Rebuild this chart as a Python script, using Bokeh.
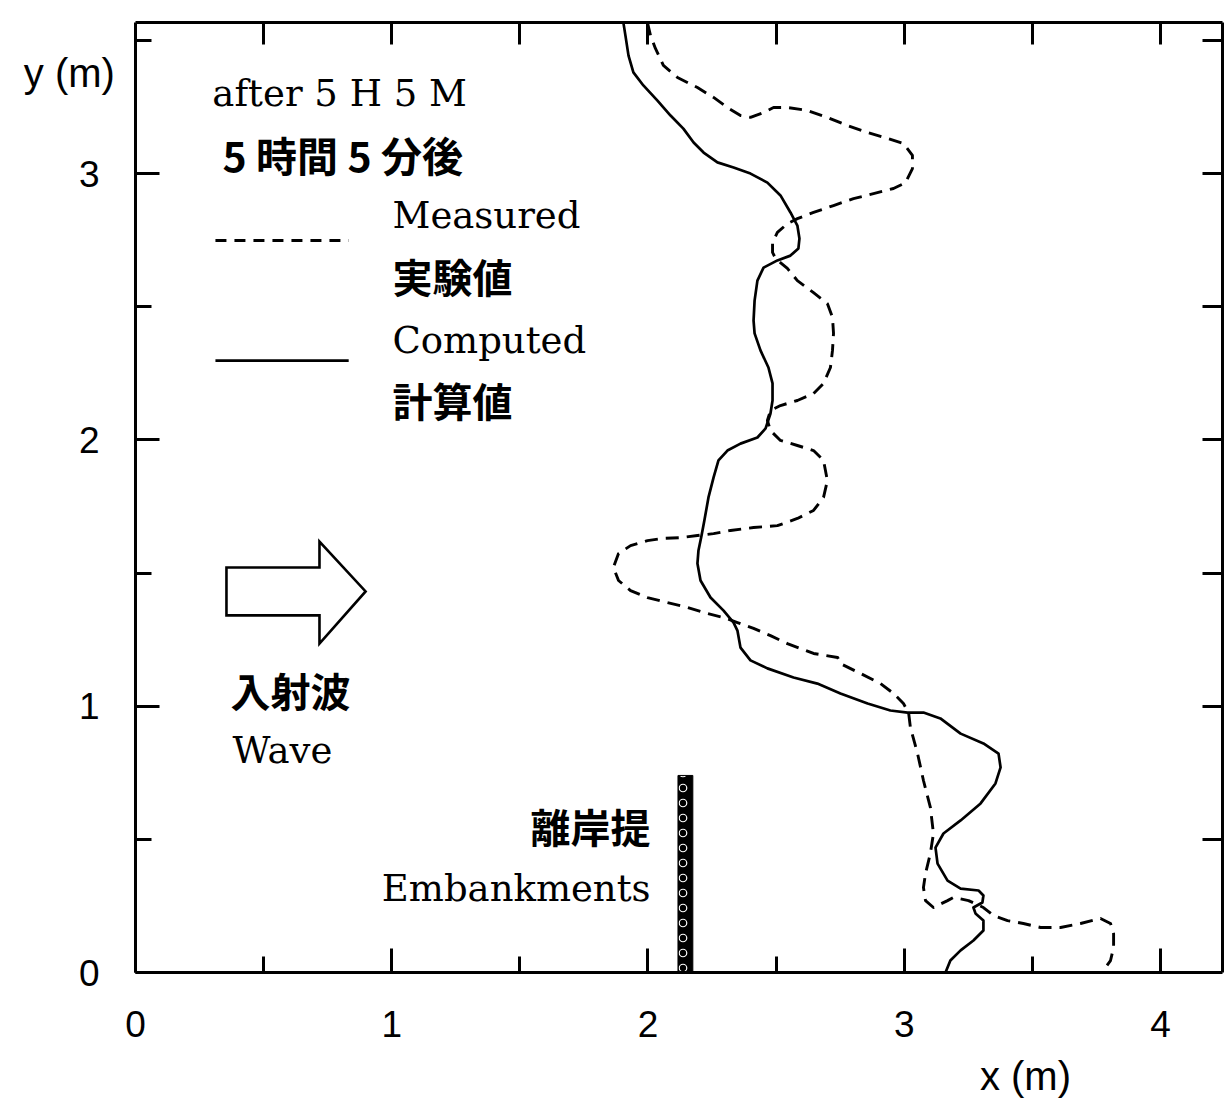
from bokeh.plotting import figure
from bokeh.models import Range1d, LinearAxis, FixedTicker, Label
from bokeh.embed import file_html
from bokeh.resources import INLINE

# Shoreline position after 5 h 5 min: cross-shore x (m) along longshore y (m)
computed_x = [1.904, 1.912, 1.924, 1.943, 1.982, 2.037, 2.088, 2.138, 2.178, 2.217,
              2.271, 2.334, 2.400, 2.466, 2.517, 2.556, 2.583, 2.591, 2.587, 2.556,
              2.505, 2.451, 2.427, 2.416, 2.412, 2.416, 2.439, 2.470, 2.486, 2.486,
              2.478, 2.459, 2.427, 2.361, 2.310, 2.275, 2.256, 2.236, 2.220, 2.209,
              2.197, 2.193, 2.205, 2.244, 2.295, 2.334, 2.349, 2.361, 2.400, 2.466,
              2.568, 2.661, 2.751, 2.857, 2.946, 3.013, 3.075, 3.141, 3.220, 3.309,
              3.368, 3.376, 3.356, 3.298, 3.220, 3.153, 3.122, 3.130, 3.169, 3.220,
              3.290, 3.309, 3.305, 3.270, 3.278, 3.309, 3.309, 3.270, 3.220, 3.180,
              3.161]
computed_y = [3.567, 3.518, 3.443, 3.380, 3.331, 3.274, 3.218, 3.169, 3.117, 3.079,
              3.042, 3.023, 3.000, 2.966, 2.918, 2.854, 2.805, 2.756, 2.719, 2.692,
              2.674, 2.647, 2.598, 2.523, 2.448, 2.400, 2.336, 2.272, 2.212, 2.148,
              2.099, 2.043, 2.009, 1.986, 1.960, 1.923, 1.859, 1.784, 1.697, 1.641,
              1.585, 1.536, 1.472, 1.408, 1.359, 1.314, 1.284, 1.220, 1.172, 1.142,
              1.108, 1.085, 1.048, 1.010, 0.984, 0.976, 0.976, 0.954, 0.897, 0.860,
              0.822, 0.770, 0.710, 0.635, 0.571, 0.522, 0.469, 0.409, 0.345, 0.315,
              0.308, 0.289, 0.263, 0.244, 0.222, 0.195, 0.158, 0.120, 0.083, 0.045,
              0.000]

measured_x = [1.998, 2.010, 2.029, 2.060, 2.115, 2.193, 2.256, 2.310, 2.361, 2.400,
              2.451, 2.490, 2.544, 2.622, 2.700, 2.779, 2.857, 2.935, 2.997, 3.032,
              3.032, 3.005, 2.958, 2.880, 2.802, 2.724, 2.646, 2.583, 2.544, 2.505,
              2.486, 2.486, 2.498, 2.544, 2.583, 2.646, 2.700, 2.720, 2.724, 2.720,
              2.712, 2.685, 2.646, 2.583, 2.517, 2.478, 2.466, 2.478, 2.517, 2.583,
              2.646, 2.685, 2.700, 2.685, 2.646, 2.583, 2.505, 2.412, 2.322, 2.256,
              2.193, 2.127, 2.060, 1.998, 1.932, 1.885, 1.865, 1.885, 1.932, 1.998,
              2.076, 2.154, 2.232, 2.295, 2.349, 2.412, 2.478, 2.544, 2.646, 2.740,
              2.751, 2.829, 2.907, 2.958, 2.997, 3.017, 3.024, 3.052, 3.075, 3.102,
              3.114, 3.102, 3.083, 3.075, 3.083, 3.114, 3.169, 3.192, 3.251, 3.309,
              3.348, 3.403, 3.465, 3.532, 3.610, 3.688, 3.766, 3.805, 3.817, 3.817,
              3.805, 3.777, 3.774]
measured_y = [3.567, 3.518, 3.470, 3.406, 3.361, 3.323, 3.286, 3.248, 3.218, 3.211,
              3.229, 3.248, 3.248, 3.237, 3.211, 3.180, 3.154, 3.132, 3.113, 3.068,
              3.019, 2.966, 2.944, 2.925, 2.906, 2.880, 2.854, 2.831, 2.812, 2.779,
              2.741, 2.704, 2.681, 2.644, 2.598, 2.553, 2.512, 2.460, 2.400, 2.336,
              2.272, 2.212, 2.174, 2.148, 2.129, 2.110, 2.073, 2.035, 1.998, 1.979,
              1.960, 1.923, 1.847, 1.784, 1.735, 1.705, 1.678, 1.671, 1.660, 1.648,
              1.641, 1.633, 1.630, 1.622, 1.603, 1.573, 1.521, 1.472, 1.434, 1.408,
              1.389, 1.371, 1.348, 1.333, 1.314, 1.292, 1.265, 1.235, 1.198, 1.183,
              1.160, 1.123, 1.085, 1.048, 1.010, 0.976, 0.920, 0.822, 0.721, 0.620,
              0.522, 0.447, 0.372, 0.319, 0.270, 0.244, 0.270, 0.282, 0.270, 0.244,
              0.214, 0.195, 0.184, 0.169, 0.169, 0.184, 0.203, 0.184, 0.146, 0.094,
              0.045, 0.008, 0.000]

# Detached breakwater (離岸提)
embankment_x = [2.146]
embankment_top = [0.74]
embankment_width = 0.058

# Incident wave arrow outline
arrow_x = [0.355, 0.718, 0.718, 0.898, 0.718, 0.718, 0.355]
arrow_y = [1.521, 1.521, 1.618, 1.431, 1.235, 1.341, 1.341]

# Legend samples
legend_x = [0.312, 0.832]
legend_measured_y = [2.749, 2.749]
legend_computed_y = [2.298, 2.298]

# Plotting box (m) and ticks
x_min, x_max = 0.0, 4.242
y_min, y_max = 0.0, 3.567
x_ticks = [0, 1, 2, 3, 4]
x_minor = [0.5, 1.5, 2.5, 3.5]
y_ticks = [0, 1, 2, 3]
y_minor = [0.5, 1.5, 2.5, 3.5]
x_edge_ticks = [0.5, 1, 1.5, 2, 2.5, 3, 3.5, 4]
y_edge_ticks = [0.5, 1, 1.5, 2, 2.5, 3, 3.5]

SERIF = "DejaVu Serif"
CJK = "Noto Sans CJK JP"
SANS = "Liberation Sans"

# The visible ranges extend past the box so the axis titles sit on the canvas;
# the box itself is drawn by axes pinned at its edges.
p = figure(width=1224, height=1105,
           x_range=Range1d(-0.5268, 4.2498), y_range=Range1d(-0.4994, 3.650),
           x_axis_location=None, y_axis_location=None,
           output_backend="svg", toolbar_location=None,
           min_border=0)
p.grid.grid_line_color = None
p.outline_line_color = None
p.background_fill_color = "white"
p.border_fill_color = "white"

tick_style = dict(axis_line_width=3, axis_line_color="black",
                  major_tick_out=0, minor_tick_out=0,
                  major_tick_line_width=3, minor_tick_line_width=3,
                  major_tick_line_color="black", minor_tick_line_color="black")

bottom = LinearAxis(ticker=FixedTicker(ticks=x_ticks, minor_ticks=x_minor),
                    fixed_location=y_min, bounds=(x_min, x_max),
                    major_tick_in=24, minor_tick_in=16,
                    major_label_text_font=SANS, major_label_text_font_size="37px",
                    major_label_text_color="black", major_label_standoff=38,
                    **tick_style)
left = LinearAxis(ticker=FixedTicker(ticks=y_ticks, minor_ticks=y_minor),
                  fixed_location=x_min, bounds=(y_min, y_max),
                  major_tick_in=24, minor_tick_in=16,
                  major_label_text_font=SANS, major_label_text_font_size="37px",
                  major_label_text_color="black", major_label_standoff=36,
                  **tick_style)
# top and right edges carry ticks only
top = LinearAxis(ticker=FixedTicker(ticks=[], minor_ticks=x_edge_ticks),
                 fixed_location=y_max, bounds=(x_min, x_max),
                 major_tick_in=0, minor_tick_in=22, **tick_style)
right = LinearAxis(ticker=FixedTicker(ticks=[], minor_ticks=y_edge_ticks),
                   fixed_location=x_max, bounds=(y_min, y_max),
                   major_tick_in=0, minor_tick_in=20, **tick_style)
p.add_layout(bottom, "below")
p.add_layout(left, "left")
p.add_layout(top, "above")
p.add_layout(right, "right")

# Shorelines
p.line(measured_x, measured_y, line_color="black", line_width=2.9,
       line_dash="13 8", line_join="round")
p.line(computed_x, computed_y, line_color="black", line_width=2.7,
       line_join="round")

# Breakwater
p.vbar(x=embankment_x, top=embankment_top, bottom=0, width=embankment_width,
       fill_color="black", line_color="black", line_width=1,
       hatch_pattern="o", hatch_color="white", hatch_scale=15, hatch_weight=1.2)

# Wave arrow
p.patch(arrow_x, arrow_y, fill_color="white", line_color="black", line_width=2.6,
        line_join="miter")

# Legend samples
p.line(legend_x, legend_measured_y, line_color="black", line_width=2.9, line_dash="11 8")
p.line(legend_x, legend_computed_y, line_color="black", line_width=2.7)

texts = [
    ("after 5 H 5 M", 0.300, 3.301, SERIF, "37px", "left", "normal"),
    ("5 時間 5 分後", 0.340, 3.075, CJK, "41px", "left", "bold"),
    ("Measured", 1.003, 2.843, SERIF, "37px", "left", "normal"),
    ("実験値", 1.003, 2.617, CJK, "40px", "left", "bold"),
    ("Computed", 1.003, 2.373, SERIF, "37px", "left", "normal"),
    ("計算値", 1.003, 2.148, CJK, "40px", "left", "bold"),
    ("入射波", 0.371, 1.059, CJK, "40px", "left", "bold"),
    ("Wave", 0.379, 0.834, SERIF, "37px", "left", "normal"),
    ("離岸提", 2.010, 0.552, CJK, "40px", "right", "bold"),
    ("Embankments", 2.010, 0.315, SERIF, "37px", "right", "normal"),
    ("y (m)", -0.258, 3.376, SANS, "40px", "center", "normal"),
    ("x (m)", 3.473, -0.387, SANS, "40px", "center", "normal"),
]
for t, x, y, font, size, align, style in texts:
    p.add_layout(Label(x=x, y=y, text=t, text_font=font, text_font_size=size,
                       text_align=align, text_baseline="middle",
                       text_font_style=style, text_color="black"))

open("out.html", "w").write(file_html(p, INLINE))
